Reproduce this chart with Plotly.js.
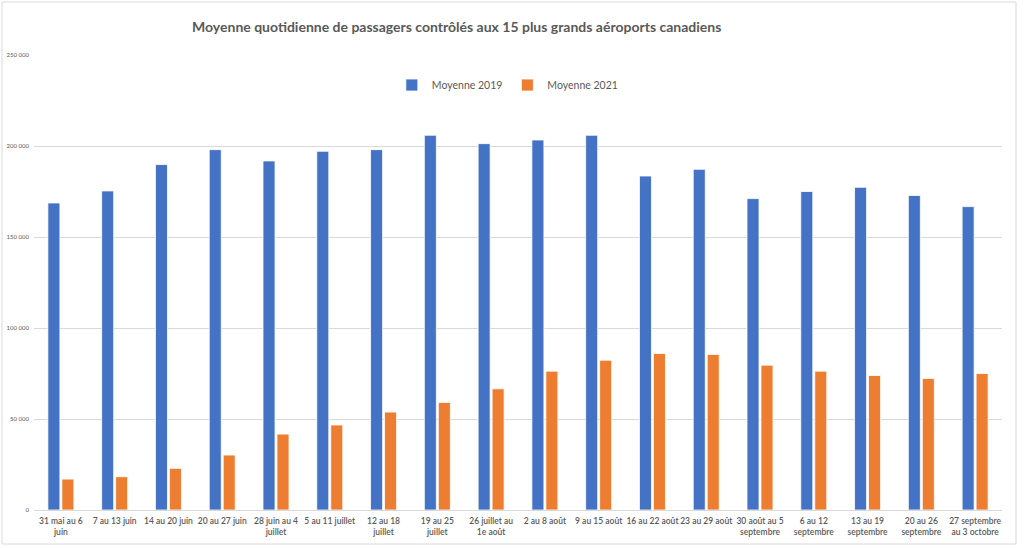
<!DOCTYPE html>
<html>
<head>
<meta charset="utf-8">
<script src="https://cdn.plot.ly/plotly-3.0.1.min.js"></script>
<style>
html,body{margin:0;padding:0;background:#fff;}
#chart{width:1024px;height:548px;}
</style>
</head>
<body>
<div id="chart"></div>
<script>
const categories = [
  "31 mai au 6<br>juin", "7 au 13 juin", "14 au 20 juin", "20 au 27 juin",
  "28 juin au 4<br>juillet", "5 au 11 juillet", "12 au 18<br>juillet", "19 au 25<br>juillet",
  "26 juillet au<br>1e août", "2 au 8 août", "9 au 15 août", "16 au 22 août",
  "23 au 29 août", "30 août au 5<br>septembre", "6 au 12<br>septembre", "13 au 19<br>septembre",
  "20 au 26<br>septembre", "27 septembre<br>au 3 octobre"
];
const moyenne2019 = [168700, 175300, 189800, 198000, 191800, 197100, 198000, 205900, 201300,
                     203300, 205900, 183500, 187200, 171100, 175000, 177300, 172800, 166700];
const moyenne2021 = [17000, 18300, 22900, 30200, 41700, 46700, 53800, 59100, 66600,
                     76300, 82300, 86000, 85500, 79600, 76300, 73900, 72300, 75000];
const seriesNames = ["Moyenne 2019", "Moyenne 2021"];
const yTicks = [0, 50000, 100000, 150000, 200000, 250000];

const traces = [
  {type: "bar", name: seriesNames[0], x: categories, y: moyenne2019,
   marker: {color: "#4472c4", line: {color: "#ffffff", width: 0.8}}},
  {type: "bar", name: seriesNames[1], x: categories, y: moyenne2021,
   marker: {color: "#ed7d31", line: {color: "#ffffff", width: 0.8}}}
];

const layout = {
  width: 1024, height: 548,
  margin: {l: 34, r: 22, t: 55, b: 38, pad: 0},
  paper_bgcolor: "#ffffff", plot_bgcolor: "#ffffff",
  separators: ", ",
  font: {family: "Lato, 'Open Sans', sans-serif", color: "#595959"},
  title: {
    text: "<b>Moyenne quotidienne de passagers contrôlés aux 15 plus grands aéroports canadiens</b>",
    font: {family: "Lato, 'Open Sans', sans-serif", size: 14, color: "#595959"},
    xref: "container", yref: "container", x: 0.446, xanchor: "center", y: 0.951, yanchor: "middle"
  },
  bargap: 0.48, bargroupgap: 0.14, barmode: "group",
  showlegend: true,
  legend: {
    orientation: "h", x: 0.489, xanchor: "center", y: 0.934, yanchor: "middle",
    font: {size: 10.5, color: "#595959"}, itemwidth: 30, traceorder: "normal",
    bgcolor: "rgba(0,0,0,0)"
  },
  xaxis: {
    type: "category", showgrid: false, showline: false, zeroline: false, ticks: "",
    tickangle: 0, ticklabelstandoff: 4,
    tickfont: {size: 8.5, color: "#595959", weight: 600, family: "Lato, 'Open Sans', sans-serif"},
    fixedrange: true
  },
  yaxis: {
    range: [0, 250000], tickvals: yTicks, tickformat: ",d",
    showgrid: true, gridcolor: "#d9d9d9", gridwidth: 1,
    zeroline: true, zerolinecolor: "#d9d9d9", zerolinewidth: 1,
    showline: false, ticks: "", ticklabelstandoff: 4,
    tickfont: {size: 6, color: "#595959"}, fixedrange: true
  },
  shapes: [
    {type: "rect", xref: "paper", yref: "paper",
     x0: (2 - 34) / 968, x1: (1016 - 34) / 968,
     y0: (510 - 544) / 455, y1: (510 - 2) / 455,
     line: {color: "#d9d9d9", width: 1}, fillcolor: "rgba(0,0,0,0)", layer: "below"}
  ]
};

Plotly.newPlot("chart", traces, layout, {displayModeBar: false, staticPlot: true});
</script>
</body>
</html>
